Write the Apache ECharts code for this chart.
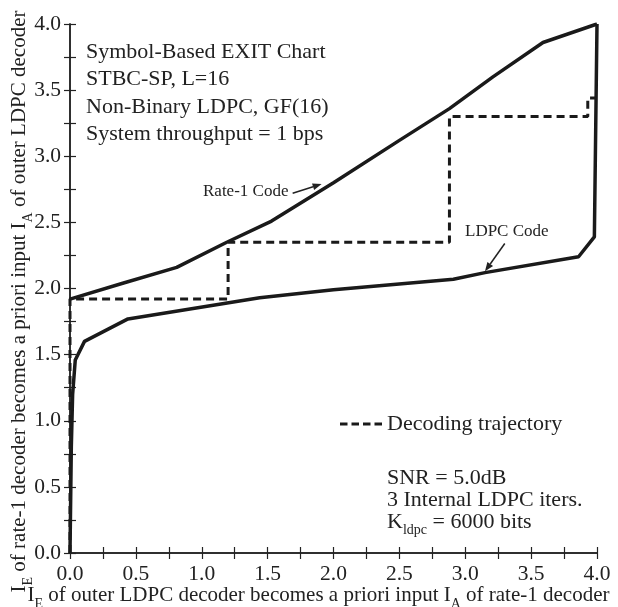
<!DOCTYPE html>
<html><head><meta charset="utf-8">
<script src="https://cdn.jsdelivr.net/npm/echarts@6/dist/echarts.min.js"></script>
<style>html,body{margin:0;padding:0;background:#fff}#c{width:618px;height:607px}</style>
</head><body><div id="c"></div>
<script>
// ---- data ----
const rate1X = [0, 0.40, 0.81, 1.19, 1.53, 2.0, 2.5, 2.88, 3.21, 3.59, 4.0];
const rate1Y = [1.92, 2.04, 2.16, 2.35, 2.51, 2.80, 3.12, 3.36, 3.60, 3.86, 4.0];
const ldpcX = [0, 0.01, 0.02, 0.04, 0.11, 0.44, 1.44, 2.0, 2.91, 3.15, 3.86, 3.98, 4.0];
const ldpcY = [0, 0.8, 1.2, 1.46, 1.60, 1.77, 1.93, 1.99, 2.07, 2.12, 2.24, 2.39, 4.0];
const trajX = [0, 0, 1.2, 1.2, 2.88, 2.88, 3.93, 3.93, 4.0];
const trajY = [0, 1.92, 1.92, 2.35, 2.35, 3.30, 3.30, 3.44, 3.44];
const legendName = 'Decoding trajectory';
const infoLines = ['Symbol-Based EXIT Chart', 'STBC-SP, L=16', 'Non-Binary LDPC, GF(16)', 'System throughput = 1 bps'];
const noteLines = ['SNR = 5.0dB', '3 Internal LDPC iters.', '{n|K}{s|ldpc}{n| = 6000 bits}'];
const rate1Label = 'Rate-1 Code';
const ldpcLabel = 'LDPC Code';
// arrows: [from, to] in data coordinates
const rate1Arrow = [[1.69, 2.72], [1.91, 2.79]];
const ldpcArrow = [[3.30, 2.34], [3.15, 2.13]];
const xName = '{n|I}{s|E}{n| of outer LDPC decoder becomes a priori input I}{s|A}{n| of rate-1 decoder}';
const yName = '{n|I}{s|E}{n| of rate-1 decoder becomes a priori input I}{s|A}{n| of outer LDPC decoder}';

const pair = (xs, ys) => xs.map((x, i) => [x, ys[i]]);
const FONT = 'Liberation Serif';
const FS = 22;
const rich = {
  n: {fontFamily: FONT, fontSize: 21, color: '#222', lineHeight: 24, verticalAlign: 'top'},
  s: {fontFamily: FONT, fontSize: 14, color: '#222', lineHeight: 14, verticalAlign: 'top', padding: [12, 0, 0, 0]}
};
const axisCommon = {
  min: 0, max: 4, interval: 0.5,
  axisLine: {lineStyle: {color: '#222', width: 1.5}},
  axisTick: {inside: true, length: 6, lineStyle: {color: '#222', width: 1.2}},
  minorTick: {show: true, splitNumber: 2, length: 6, lineStyle: {color: '#222', width: 1.2}},
  splitLine: {show: false},
  axisLabel: {fontFamily: FONT, fontSize: 21.5, color: '#222', formatter: v => v.toFixed(1)}
};
const chart = echarts.init(document.getElementById('c'), null, {renderer: 'canvas'});
const option = {
  animation: false,
  backgroundColor: '#fff',
  grid: {left: 70, right: 21, top: 24, bottom: 54, containLabel: false, outerBoundsMode: 'none'},
  xAxis: [
    Object.assign({}, axisCommon, {type: 'value', position: 'bottom',
      axisLabel: Object.assign({}, axisCommon.axisLabel, {margin: 10}),
      name: xName, nameLocation: 'middle', nameGap: 32, nameMoveOverlap: false,
      nameTextStyle: {rich: rich, padding: [0, 30, 0, 0]}}),
    Object.assign({}, axisCommon, {type: 'value', position: 'top', axisLabel: {show: false}})
  ],
  yAxis: [
    Object.assign({}, axisCommon, {type: 'value', position: 'left',
      axisLabel: Object.assign({}, axisCommon.axisLabel, {margin: 9}),
      name: yName, nameLocation: 'middle', nameGap: 37, nameRotate: 90, nameMoveOverlap: false,
      nameTextStyle: {rich: rich, padding: [0, 26, 0, 0]}}),
    Object.assign({}, axisCommon, {type: 'value', position: 'right', axisLabel: {show: false}})
  ],
  legend: {
    data: [{name: legendName, icon: 'path://M0,0H7.5V3H0Z M11.5,0H19V3H11.5Z M23,0H30.5V3H23Z M34.5,0H42V3H34.5Z'}],
    left: 335, top: 408, itemWidth: 42, itemHeight: 3,
    itemStyle: {color: '#1a1a1a'},
    textStyle: {fontFamily: FONT, fontSize: FS, color: '#222', padding: 0}
  },
  series: [
    {name: 'Rate-1 Code', type: 'line', data: pair(rate1X, rate1Y), symbol: 'none',
      lineStyle: {color: '#1a1a1a', width: 3.5}, z: 3},
    {name: 'LDPC Code', type: 'line', data: pair(ldpcX, ldpcY), symbol: 'none',
      lineStyle: {color: '#1a1a1a', width: 3.5}, z: 3},
    {name: legendName, type: 'line', data: pair(trajX, trajY), symbol: 'none',
      itemStyle: {color: '#1a1a1a'},
      lineStyle: {color: '#1a1a1a', width: 3, type: [8, 5]}, z: 4}
  ]
};
chart.setOption(option);

function arrow(from, to) {
  const p0 = chart.convertToPixel({gridIndex: 0}, from);
  const p1 = chart.convertToPixel({gridIndex: 0}, to);
  const dx = p1[0] - p0[0], dy = p1[1] - p0[1];
  const L = Math.hypot(dx, dy), ux = dx / L, uy = dy / L;
  const hl = 9, hw = 3.5;
  const bx = p1[0] - ux * hl, by = p1[1] - uy * hl;
  return [
    {type: 'line', shape: {x1: p0[0], y1: p0[1], x2: bx, y2: by}, style: {stroke: '#222', lineWidth: 1.5}, z: 10},
    {type: 'polygon', shape: {points: [[p1[0], p1[1]], [bx - uy * hw, by + ux * hw], [bx + uy * hw, by - ux * hw]]},
      style: {fill: '#222'}, z: 10}
  ];
}
const textStyle = {fontFamily: FONT, fontSize: FS, fill: '#222', textVerticalAlign: 'middle'};
const graphics = [];
infoLines.forEach((t, i) => graphics.push({type: 'text', x: 86, y: 52 + i * 27.5,
  style: Object.assign({}, textStyle, {text: t}), z: 10}));
noteLines.forEach((t, i) => graphics.push({type: 'text', x: 387, y: 478 + i * 22.5,
  style: Object.assign({}, textStyle, {text: t, rich: {
    n: {fontFamily: FONT, fontSize: FS, fill: '#222', lineHeight: 24, verticalAlign: 'top'},
    s: {fontFamily: FONT, fontSize: 14, fill: '#222', lineHeight: 14, verticalAlign: 'top', padding: [12, 0, 0, 0]}
  }}), z: 10}));
graphics.push({type: 'text', x: 203, y: 192, style: Object.assign({}, textStyle, {text: rate1Label, fontSize: 17}), z: 10});
graphics.push({type: 'text', x: 465, y: 232, style: Object.assign({}, textStyle, {text: ldpcLabel, fontSize: 17}), z: 10});
graphics.push(...arrow(rate1Arrow[0], rate1Arrow[1]));
graphics.push(...arrow(ldpcArrow[0], ldpcArrow[1]));
chart.setOption({graphic: graphics});
</script></body></html>
